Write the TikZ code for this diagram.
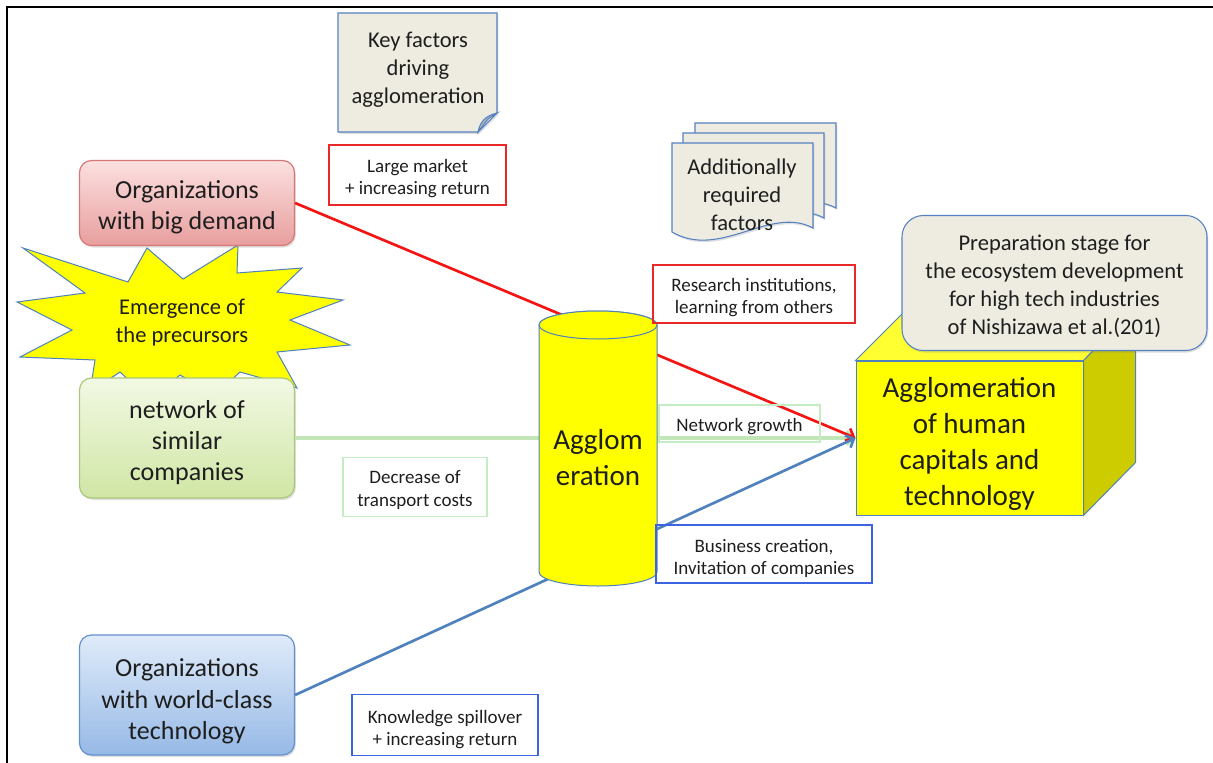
\documentclass[tikz,border=0pt]{standalone}
\usepackage{fontspec}
\setmainfont{Carlito}
\usetikzlibrary{arrows.meta,shadows}
\definecolor{txtc}{RGB}{30,30,30}
\definecolor{redT}{RGB}{252,224,224}
\definecolor{redB}{RGB}{232,158,158}
\definecolor{redD}{RGB}{215,120,118}
\definecolor{greenT}{RGB}{242,249,228}
\definecolor{greenB}{RGB}{208,230,165}
\definecolor{greenD}{RGB}{170,200,120}
\definecolor{blueT}{RGB}{224,235,250}
\definecolor{blueB}{RGB}{150,185,230}
\definecolor{blueD}{RGB}{100,145,205}
\definecolor{noteF}{RGB}{238,236,225}
\definecolor{noteD}{RGB}{85,130,195}
\definecolor{foldF}{RGB}{180,180,180}
\definecolor{yel}{RGB}{255,255,0}
\definecolor{cubeTop}{RGB}{255,255,50}
\definecolor{cubeSide}{RGB}{204,204,0}
\definecolor{shapeD}{RGB}{79,129,189}
\definecolor{lineRed}{RGB}{245,20,20}
\definecolor{lineBlue}{RGB}{79,129,189}
\definecolor{lineGreen}{RGB}{195,230,185}
\definecolor{labRed}{RGB}{235,40,40}
\definecolor{labGreen}{RGB}{195,238,195}
\definecolor{labBlue}{RGB}{60,100,225}
\begin{document}
\begin{tikzpicture}[x=0.75pt,y=-0.75pt,
  txt/.style={text=txtc, align=center, inner sep=0pt},
  shad/.style={drop shadow={opacity=0.25, shadow xshift=1pt, shadow yshift=-1.5pt}},
  bigbox/.style={rounded corners=9pt, minimum width=161.25pt, line width=0.9pt, shad, inner sep=0pt},
  bigfont/.style={txt, font=\fontsize{19.5}{23.25}\selectfont},
  hugefont/.style={txt, font=\fontsize{21.75}{27}\selectfont},
  midfont/.style={txt, font=\fontsize{16.9}{21}\selectfont},
  labfont/.style={txt, font=\fontsize{14.25}{17}\selectfont},
  lab/.style={draw, line width=0.8pt, inner sep=0pt},
  notebox/.style={fill=noteF, draw=noteD, line width=0.8pt, shad},
  yshape/.style={fill=yel, draw=shapeD, line width=0.75pt},
  conn/.style={line width=2pt, -{Straight Barb[length=5pt,width=10pt]}},
]
\useasboundingbox (0,0) rectangle (1213,763);
% frame
\draw[line width=1.6pt, black] (1213,7) -- (7,7) -- (7,763);

% key factors note
\draw[notebox] (338,13) -- (497,13) -- (497,113) -- (478,132) -- (338,132) -- cycle;
\draw[fill=foldF, draw=noteD, line width=0.8pt] (478,132) .. controls (480,122) and (485,116) .. (497,113) -- (488,119) -- cycle;
\node[midfont] (keyf) at (418,70) {Key factors\\driving\\agglomeration};

% additionally required factors (multi document)
\foreach \dx/\dy in {23/-20,11/-10,0/0}{
  \draw[notebox, shift={(\dx,\dy)}] (672,143) -- (813,143) -- (813,228)
     .. controls (770,205) and (720,260) .. (672,232) -- cycle;
}
\node[midfont] (addf) at (742,195) {Additionally\\required\\factors};

% starburst
\draw[yshape] (23,248) -- (128,282) -- (147,248) -- (183,279) -- (238,245) -- (237,273)
  -- (302,268) -- (277,292) -- (343,300) -- (290,320) -- (350,345) -- (277,352)
  -- (297,388) -- (240,372) -- (215,395) -- (180,375) -- (150,400) -- (120,372)
  -- (90,392) -- (95,360) -- (20,357) -- (72,330) -- (17,302) -- (85,293) -- cycle;
\node[midfont] (emerg) at (182,323) {Emergence of\\the precursors};

% left boxes
\node[bigbox, top color=redT, bottom color=redB, draw=redD, minimum height=63.75pt] (demand) at (187,203) {};
\node[bigfont] (demandt) at (187,207) {Organizations\\with big demand};
\node[bigbox, top color=greenT, bottom color=greenB, draw=greenD, minimum height=90pt] (network) at (187,438) {};
\node[bigfont] (networkt) at (187,443) {network of\\similar\\companies};
\node[bigbox, top color=blueT, bottom color=blueB, draw=blueD, minimum height=90pt] (tech) at (187,695) {};
\node[bigfont, font=\fontsize{19.5}{23.6}\selectfont] (techt) at (187,701.5) {Organizations\\with world-class\\technology};

% cube
\node[fill=yel, draw=shapeD, line width=0.75pt, minimum width=170.25pt, minimum height=115.5pt, inner sep=0pt]
  (cube) at (969.5,438) {};
\draw[fill=cubeTop, draw=shapeD, line width=0.75pt] (cube.north west) -- ++(52,-52) -- ++(227,0) -- (cube.north east) -- cycle;
\draw[fill=cubeSide, draw=shapeD, line width=0.75pt] (cube.north east) -- ++(52,-52) -- ++(0,154) -- (cube.south east) -- cycle;
\node[hugefont] (cubet) at (969.5,444) {Agglomeration\\of human\\capitals and\\technology};

% connectors
\draw[conn, lineGreen, line width=2.4pt] (network.east) -- (cube.west);
\draw[conn, lineRed] (demand.east) -- (cube.west);
\draw[conn, lineBlue] (tech.east) -- (cube.west);

% cylinder
\draw[yshape] (539,325) -- (539,572) arc[start angle=180,end angle=360,x radius=44.25pt,y radius=10.5pt]
  -- (657,325) arc[start angle=0,end angle=180,x radius=44.25pt,y radius=10.5pt] -- cycle;
\draw[yshape] (598,325) ellipse[x radius=44.25pt, y radius=10.5pt];
\node[hugefont] (aggl) at (598,458) {Agglom\\eration};

% preparation stage box
\node[notebox, rounded corners=16pt, minimum width=228.75pt, minimum height=101.25pt, inner sep=0pt]
  (prep) at (1054.5,283) {};
\node[midfont] (prept) at (1054.5,286) {Preparation stage for\\the ecosystem development\\for high tech industries\\of Nishizawa et al.(201)};

% labels
\node[lab, draw=labRed, minimum width=132.75pt, minimum height=45pt] (lm) at (417.5,175) {};
\node[labfont] (lmt) at (417.5,178.5) {Large market\\+ increasing return};
\node[lab, draw=labRed, minimum width=151.5pt, minimum height=43.5pt] (ri) at (754,294) {};
\node[labfont] (rit) at (754,297.5) {Research institutions,\\learning from others};
\node[lab, draw=labGreen, minimum width=120.75pt, minimum height=27.75pt] (ng) at (739.5,423.5) {};
\node[labfont] (ngt) at (739.5,427) {Network growth};
\node[lab, draw=labGreen, minimum width=108pt, minimum height=44.25pt] (dt) at (415,487) {};
\node[labfont] (dtt) at (415,490) {Decrease of\\transport costs};
\node[lab, draw=labBlue, minimum width=162pt, minimum height=43.5pt] (bc) at (764,554) {};
\node[labfont] (bct) at (764,558.5) {Business creation,\\Invitation of companies};
\node[lab, draw=labBlue, minimum width=139.5pt, minimum height=45.75pt] (ks) at (445,725) {};
\node[labfont] (kst) at (445,729.5) {Knowledge spillover\\+ increasing return};
\end{tikzpicture}
\end{document}
